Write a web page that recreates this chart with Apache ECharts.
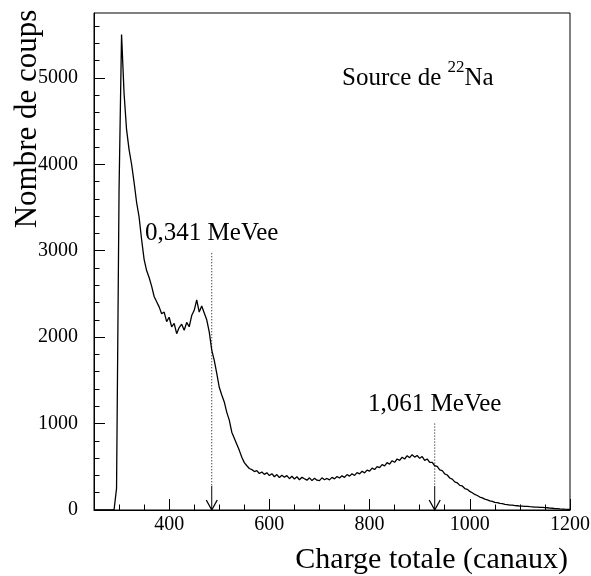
<!DOCTYPE html>
<html>
<head>
<meta charset="utf-8">
<script src="https://cdn.jsdelivr.net/npm/echarts@6/dist/echarts.min.js"></script>
<style>
html, body { margin: 0; padding: 0; background: #fff; }
#chart { width: 591px; height: 576px; }
</style>
</head>
<body>
<div id="chart"></div>
<script>
// ---- Data, one sample every 5 channels ----
const chanStart = 250;   // first channel sampled
const chanStep = 5;      // channels between samples
const counts = [
  0, 0, 0, 0, 0, 0, 0, 0, 0, 250,                              // 250-295
  3700, 5500, 4820, 4400, 4170, 4000, 3790, 3560, 3390, 3130,  // 300-345
  2900, 2770, 2690, 2590, 2470, 2410, 2350, 2270, 2290, 2180,  // 350-395
  2230, 2120, 2160, 2040, 2110, 2150, 2080, 2170, 2120, 2250,  // 400-445
  2310, 2430, 2290, 2360, 2280, 2200, 2060, 1850, 1730, 1580,  // 450-495
  1420, 1330, 1250, 1130, 1040, 900, 830, 760, 690, 610,       // 500-545
  548, 512, 480, 468, 445, 455, 422, 440, 412, 432,            // 550-595
  398, 420, 385, 410, 375, 402, 380, 398, 362, 390,            // 600-645
  358, 385, 350, 378, 362, 345, 372, 340, 368, 345,            // 650-695
  340, 372, 350, 365, 348, 378, 360, 388, 370, 395,            // 700-745
  378, 410, 392, 420, 400, 432, 418, 448, 430, 462,            // 750-795
  450, 485, 468, 502, 490, 525, 510, 548, 530, 570,            // 800-845
  552, 590, 575, 610, 590, 628, 605, 640, 612, 630,            // 850-895
  598, 618, 575, 590, 550, 552, 512, 505, 465, 455,            // 900-945
  418, 405, 370, 358, 325, 315, 285, 278, 248, 240,            // 950-995
  215, 200, 180, 168, 150, 140, 125, 118, 105, 100,            // 1000-1045
  88, 85, 76, 74, 66, 63, 57, 56, 50, 49,                      // 1050-1095
  45, 44, 41, 41, 38, 37, 34, 34, 31, 30,                      // 1100-1145
  27, 26, 22, 20, 17, 15, 12, 11, 9, 8,                        // 1150-1195
  6                                                            // 1200
];
const xMin = 250, xMax = 1200;
const yMin = 0, yMax = 5750;
const xLabelTicks = [400, 600, 800, 1000, 1200];
const xMinorTicks = [300, 350, 450, 500, 550, 650, 700, 750, 850, 900, 950, 1050, 1100, 1150];
const yLabelTicks = [0, 1000, 2000, 3000, 4000, 5000];
const yMinorTicks = [200, 400, 600, 800, 1200, 1400, 1600, 1800, 2200, 2400, 2600, 2800,
                     3200, 3400, 3600, 3800, 4200, 4400, 4600, 4800, 5200, 5400, 5600];
const markerChannels = [485, 930];
const markerTops = [2970, 1000];
const markerLabels = ['0,341 MeVee', '1,061 MeVee'];
const xTitle = 'Charge totale (canaux)';
const yTitle = 'Nombre de coups';
const sourceLabel = ['Source de ', '22', 'Na'];

// ---- Build series data ----
const specData = counts.map((v, i) => [chanStart + i * chanStep, v]);
const markerData = markerChannels.map((c, i) => [c, markerTops[i]]);

const FONT = 'Liberation Serif, Times New Roman, serif';
const chart = echarts.init(document.getElementById('chart'), null, { renderer: 'canvas' });
const plain = v => String(v);

const axisCommon = {
  splitLine: { show: false },
  axisLine: { show: false },
  axisLabel: { show: false },
};

chart.setOption({
  animation: false,
  backgroundColor: '#fff',
  grid: {
    left: 94, right: 21, top: 13, bottom: 66,
    show: true, borderColor: '#000', borderWidth: 1,
    outerBoundsMode: 'none'
  },
  xAxis: [
    {
      type: 'value', min: xMin, max: xMax, position: 'bottom',
      axisLine: { show: true, onZero: false, lineStyle: { color: '#000', width: 1 } },
      axisTick: { show: true, inside: true, length: 11, customValues: xLabelTicks, lineStyle: { color: '#000', width: 1 } },
      axisLabel: { show: true, customValues: xLabelTicks, formatter: plain, color: '#000', fontFamily: FONT, fontSize: 20, margin: 5 },
      splitLine: { show: false }
    },
    Object.assign({}, axisCommon, {
      type: 'value', min: xMin, max: xMax, position: 'bottom', offset: 0,
      axisTick: { show: true, inside: true, length: 5.5, customValues: xMinorTicks, lineStyle: { color: '#000', width: 1 } }
    })
  ],
  yAxis: [
    {
      type: 'value', min: yMin, max: yMax, position: 'left',
      axisLine: { show: true, onZero: false, lineStyle: { color: '#000', width: 1 } },
      axisTick: { show: true, inside: true, length: 11, customValues: yLabelTicks, lineStyle: { color: '#000', width: 1 } },
      axisLabel: { show: true, customValues: yLabelTicks, formatter: plain, color: '#000', fontFamily: FONT, fontSize: 20, margin: 16 },
      splitLine: { show: false }
    },
    Object.assign({}, axisCommon, {
      type: 'value', min: yMin, max: yMax, position: 'left', offset: 0,
      axisTick: { show: true, inside: true, length: 5.5, customValues: yMinorTicks, lineStyle: { color: '#000', width: 1 } }
    })
  ],
  series: [
    {
      type: 'line',
      xAxisIndex: 0, yAxisIndex: 0,
      data: specData,
      showSymbol: false,
      symbol: 'none',
      silent: true,
      clip: true,
      lineStyle: { color: '#000', width: 1.3 }
    },
    {
      type: 'custom',
      xAxisIndex: 0, yAxisIndex: 0,
      silent: true,
      data: markerData,
      renderItem: function (params, api) {
        const x = api.value(0);
        const top = api.coord([x, api.value(1)]);
        const bot = api.coord([x, 0]);
        const label = markerLabels[params.dataIndex];
        return {
          type: 'group',
          children: [
            { type: 'line', shape: { x1: top[0], y1: top[1], x2: bot[0], y2: bot[1] - 24 },
              style: { stroke: '#000', lineWidth: 1, lineDash: [1, 2] } },
            { type: 'line', shape: { x1: bot[0], y1: bot[1] - 24, x2: bot[0], y2: bot[1] },
              style: { stroke: '#000', lineWidth: 1 } },
            { type: 'polyline', shape: { points: [[bot[0] - 5.5, bot[1] - 10], [bot[0], bot[1]], [bot[0] + 5.5, bot[1] - 10]] },
              style: { stroke: '#000', lineWidth: 1.3, fill: null } },
            { type: 'text', style: { text: label, x: top[0], y: top[1] - 7, align: 'center', verticalAlign: 'bottom',
              fontFamily: FONT, fontSize: 25, fill: '#000' } }
          ]
        };
      }
    }
  ],
  graphic: [
    {
      type: 'text', x: 568, y: 560, silent: true,
      style: { text: xTitle, align: 'right', verticalAlign: 'middle', fontFamily: FONT, fontSize: 30, fill: '#000' }
    },
    {
      type: 'text', x: 28, y: 119, rotation: Math.PI / 2, silent: true,
      style: { text: yTitle, align: 'center', verticalAlign: 'middle', fontFamily: FONT, fontSize: 31, fill: '#000' }
    },
    {
      type: 'text', x: 342, y: 59, silent: true,
      style: {
        text: '{n|' + sourceLabel[0] + '}{s|' + sourceLabel[1] + '}{n|' + sourceLabel[2] + '}',
        align: 'left', verticalAlign: 'top', fill: '#000',
        rich: {
          n: { fontFamily: FONT, fontSize: 25, lineHeight: 32, verticalAlign: 'bottom', fill: '#000' },
          s: { fontFamily: FONT, fontSize: 17, lineHeight: 12, verticalAlign: 'top', fill: '#000' }
        }
      }
    }
  ]
});
</script>
</body>
</html>
